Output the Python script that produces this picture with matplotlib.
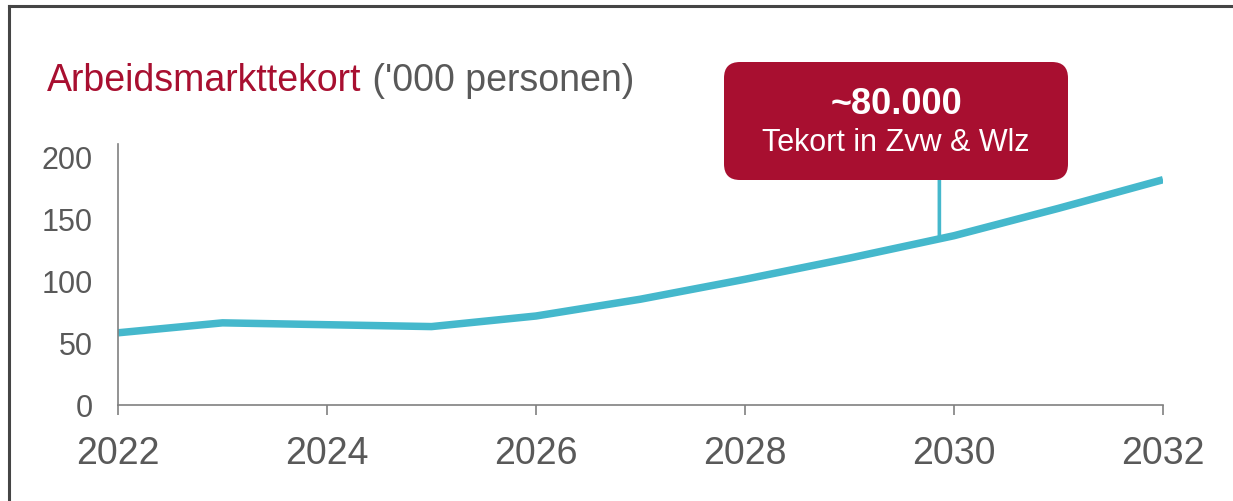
import numpy as np
import matplotlib
matplotlib.use("Agg")
import matplotlib.pyplot as plt
from matplotlib.patches import FancyBboxPatch
from matplotlib.lines import Line2D

# ---- data ----
years = [2022, 2023, 2024, 2025, 2026, 2027, 2028, 2029, 2030, 2031, 2032]
shortage = [58, 66, 64.5, 63, 71.5, 85, 101, 118, 136, 158, 181]
x_ticks = [2022, 2024, 2026, 2028, 2030, 2032]
y_ticks = [0, 50, 100, 150, 200]
title_main = "Arbeidsmarkttekort"
title_unit = " ('000 personen)"
callout_value = "~80.000"
callout_text = "Tekort in Zvw & Wlz"
callout_year = 2029.86

RED = "#A80F30"
TEAL = "#45B8CC"
GRAY_TXT = "#595959"
GRAY_AX = "#808080"

plt.rcParams['font.family'] = ['Liberation Sans', 'DejaVu Sans']

W, H = 1233, 502
fig = plt.figure(figsize=(W / 100, H / 100), dpi=100)
fig.patch.set_facecolor("white")

ax = fig.add_axes([118 / W, 1 - 406 / H, (1163 - 118) / W, (406 - 144.6) / H])
ax.plot(years, shortage, color=TEAL, lw=5.4, solid_capstyle="butt", solid_joinstyle="round")
ax.set_xlim(2022, 2032)
ax.set_ylim(0, 210)

for s in ["top", "right"]:
    ax.spines[s].set_visible(False)
for s in ["left", "bottom"]:
    ax.spines[s].set_color(GRAY_AX)
    ax.spines[s].set_linewidth(1.2)

ax.set_xticks(x_ticks)
ax.set_xticklabels([str(t) for t in x_ticks])
ax.set_yticks(y_ticks)
ax.set_yticklabels([str(t) for t in y_ticks])
ax.tick_params(axis="x", direction="out", length=7.5, width=1.2, color=GRAY_AX,
               labelsize=27, labelcolor=GRAY_TXT, pad=14)
ax.tick_params(axis="y", length=0, labelsize=22, labelcolor=GRAY_TXT, pad=18)
for lab in ax.get_xticklabels():
    lab.set_fontfamily(['Liberation Sans Narrow', 'Liberation Sans'])

# title
t1 = fig.text(47 / W, 1 - 91 / H, title_main, color=RED, fontsize=27,
              ha="left", va="baseline")
ax.annotate(title_unit, xy=(1, 0), xycoords=t1, ha="left", va="bottom",
            color=GRAY_TXT, fontsize=27, annotation_clip=False)

# callout box
bx0, bx1, by0, by1 = 724, 1068, 63, 181
box = FancyBboxPatch((bx0 / W, 1 - by1 / H), (bx1 - bx0) / W, (by1 - by0) / H,
                     boxstyle="round,pad=0,rounding_size=%f" % (16 / W),
                     mutation_aspect=W / H, transform=fig.transFigure,
                     facecolor=RED, edgecolor="none", zorder=5)
fig.patches.append(box)
fig.text((bx0 + bx1) / 2 / W, 1 - 114 / H, callout_value, color="white",
         fontsize=26, fontweight="bold", ha="center", va="baseline", zorder=6)
fig.text((bx0 + bx1) / 2 / W, 1 - 151 / H, callout_text, color="white",
         fontsize=22, ha="center", va="baseline", zorder=6)

# connector from line to box
y_conn = float(np.interp(callout_year, years, shortage))
ax.annotate("", xy=(callout_year, y_conn), xycoords="data",
            xytext=(callout_year, 1 - by1 / H), textcoords=("data", "figure fraction"),
            arrowprops=dict(arrowstyle="-", color=TEAL, lw=2.6, shrinkA=0, shrinkB=0),
            annotation_clip=False)

# outer frame (top and left edges visible)
fig.add_artist(Line2D([8.5 / W, 1.0], [1 - 6.5 / H, 1 - 6.5 / H], transform=fig.transFigure,
                      color="#454545", lw=2.2))
fig.add_artist(Line2D([8.5 / W, 8.5 / W], [0, 1 - 6.5 / H], transform=fig.transFigure,
                      color="#454545", lw=2.2))

fig.savefig("out.png", dpi=100, facecolor="white")
